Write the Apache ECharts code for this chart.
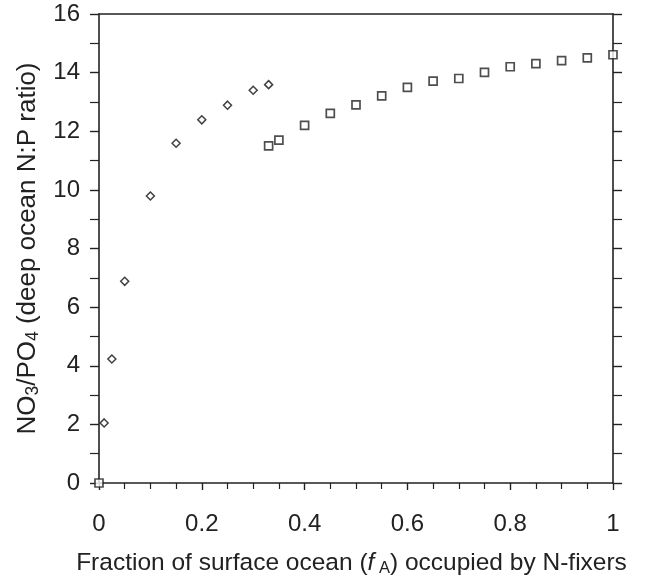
<!DOCTYPE html>
<html>
<head>
<meta charset="utf-8">
<script src="https://cdn.jsdelivr.net/npm/echarts@6/dist/echarts.min.js"></script>
<style>
html,body{margin:0;padding:0;background:#fff;}
#chart{width:651px;height:582px;}
</style>
</head>
<body>
<div id="chart"></div>
<script>
// Diamonds: first branch
const diamondX = [0.01, 0.025, 0.05, 0.1, 0.15, 0.2, 0.25, 0.3, 0.33];
const diamondY = [2.05, 4.23, 6.88, 9.79, 11.59, 12.39, 12.89, 13.40, 13.59];
// Squares: second branch
const squareX = [0, 0.33, 0.35, 0.4, 0.45, 0.5, 0.55, 0.6, 0.65, 0.7, 0.75, 0.8, 0.85, 0.9, 0.95, 1.0];
const squareY = [0, 11.50, 11.70, 12.20, 12.61, 12.90, 13.21, 13.50, 13.71, 13.80, 14.01, 14.20, 14.31, 14.41, 14.50, 14.61];

const xTickLabels = {0: '0', 0.2: '0.2', 0.4: '0.4', 0.6: '0.6', 0.8: '0.8', 1: '1'};

const ink = '#222';
const font = 'Liberation Sans, Arial, sans-serif';

const chart = echarts.init(document.getElementById('chart'), null, {renderer: 'canvas'});
const axisLineStyle = {color: ink, width: 1.6};

chart.setOption({
  backgroundColor: '#fff',
  animation: false,
  grid: {left: 99, right: 38, top: 14, bottom: 97, containLabel: false},
  xAxis: [{
    type: 'value', min: 0, max: 1, interval: 0.2, position: 'bottom',
    axisLine: {show: true, onZero: false, lineStyle: axisLineStyle},
    axisTick: {show: true, length: 7, lineStyle: {color: ink, width: 1.4}},
    minorTick: {show: true, splitNumber: 4, length: 6, lineStyle: {color: ink, width: 1.2}},
    splitLine: {show: false},
    axisLabel: {margin: 29, fontSize: 24, color: ink, fontFamily: font,
      formatter: v => { const k = Math.round(v*10)/10; return xTickLabels[k] !== undefined ? xTickLabels[k] : ''; }},
    name: '{a|Fraction of surface ocean (}{i|f}{s| A}{a|) occupied by N-fixers}',
    nameLocation: 'middle', nameGap: 67,
    nameTextStyle: {padding: [0, 9, 0, 0], rich: {
      a: {fontSize: 24.5, color: ink, fontFamily: font},
      i: {fontSize: 24.5, color: ink, fontFamily: font, fontStyle: 'italic'},
      s: {fontSize: 16.5, color: ink, fontFamily: font, padding: [10, 0, 0, 0]}
    }}
  }, {
    type: 'value', min: 0, max: 1, position: 'top',
    axisLine: {show: true, onZero: false, lineStyle: axisLineStyle},
    axisTick: {show: false}, axisLabel: {show: false}, splitLine: {show: false}
  }],
  yAxis: [{
    type: 'value', min: 0, max: 16, interval: 2, position: 'left',
    axisLine: {show: true, onZero: false, lineStyle: axisLineStyle},
    axisTick: {show: true, length: 9, lineStyle: {color: ink, width: 1.4}},
    minorTick: {show: true, splitNumber: 2, length: 9, lineStyle: {color: ink, width: 1.2}},
    splitLine: {show: false},
    axisLabel: {margin: 19, fontSize: 24, color: ink, fontFamily: font, padding: [5, 0, 0, 0]},
    name: '{a|NO}{s|3}{a|/PO}{s|4}{a| (deep ocean N:P ratio)}',
    nameLocation: 'middle', nameGap: 57,
    nameTextStyle: {rich: {
      a: {fontSize: 26, color: ink, fontFamily: font},
      s: {fontSize: 17.5, color: ink, fontFamily: font, padding: [11, 0, 0, 0]}
    }}
  }, {
    type: 'value', min: 0, max: 16, interval: 2, position: 'right',
    axisLine: {show: true, onZero: false, lineStyle: axisLineStyle},
    axisTick: {show: true, length: 9, lineStyle: {color: ink, width: 1.4}},
    minorTick: {show: true, splitNumber: 2, length: 9, lineStyle: {color: ink, width: 1.2}},
    splitLine: {show: false}, axisLabel: {show: false}
  }],
  series: [{
    type: 'scatter', name: 'diamond',
    data: diamondX.map((x, i) => [x, diamondY[i]]),
    symbol: 'diamond', symbolSize: [8, 8],
    itemStyle: {color: '#fff', borderColor: '#111', borderWidth: 1.5},
    z: 5
  }, {
    type: 'scatter', name: 'square',
    data: squareX.map((x, i) => [x, squareY[i]]),
    symbol: 'rect', symbolSize: [8, 8],
    itemStyle: {color: '#fff', borderColor: '#222', borderWidth: 1.7},
    z: 5
  }]
});
</script>
</body>
</html>
